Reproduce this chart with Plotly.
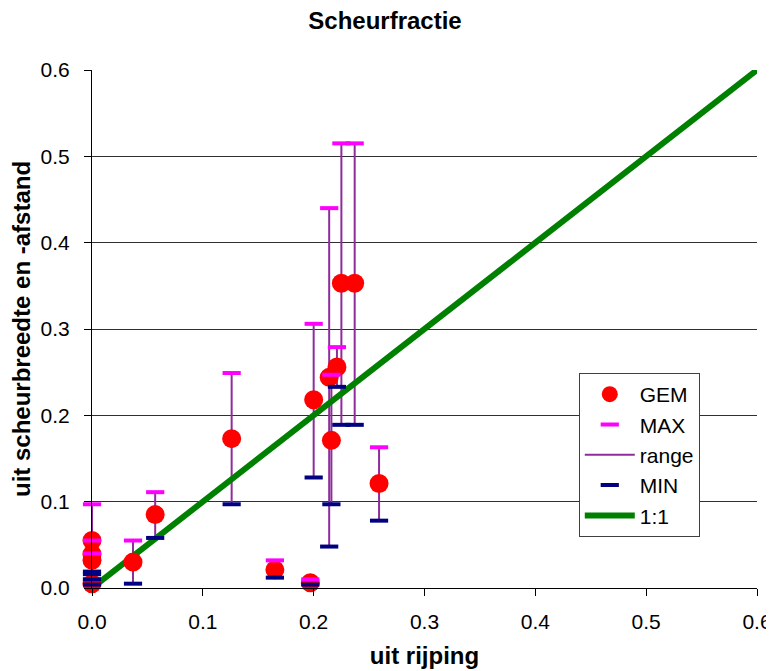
import plotly.graph_objects as go

# Data
x_rijping = [0.0, 0.0, 0.0, 0.0, 0.037, 0.057, 0.126, 0.165, 0.197, 0.200,
             0.214, 0.216, 0.221, 0.225, 0.237, 0.259]
gem = [0.055, 0.039, 0.032, 0.005, 0.030, 0.085, 0.173, 0.021, 0.006, 0.218,
       0.244, 0.171, 0.256, 0.353, 0.353, 0.121]
maxv = [0.097, 0.055, 0.040, 0.010, 0.055, 0.111, 0.249, 0.032, 0.010, 0.306,
        0.440, 0.247, 0.279, 0.515, 0.515, 0.163]
minv = [0.019, 0.016, 0.010, 0.004, 0.005, 0.058, 0.097, 0.012, 0.004, 0.128,
        0.048, 0.097, 0.233, 0.189, 0.189, 0.078]
line_x = [0.0, 0.6]
line_y = [0.0, 0.6]
ticks = [0.0, 0.1, 0.2, 0.3, 0.4, 0.5, 0.6]

font = "Liberation Sans, Arial, sans-serif"

# range segments built from min/max
rx, ry = [], []
for xv, lo, hi in zip(x_rijping, minv, maxv):
    rx += [xv, xv, None]
    ry += [lo, hi, None]

fig = go.Figure()
fig.add_trace(go.Scatter(x=rx, y=ry, mode="lines", name="range",
                         line=dict(color="#8E2C9A", width=2),
                         legendrank=3, legendgroup="c", cliponaxis=False))
fig.add_trace(go.Scatter(x=line_x, y=line_y, mode="lines", name="1:1",
                         line=dict(color="#008000", width=6),
                         legendrank=5, legendgroup="e", cliponaxis=False))
fig.add_trace(go.Scatter(x=x_rijping, y=gem, mode="markers", name="GEM",
                         marker=dict(symbol="circle", size=19, color="#FF0000"),
                         legendrank=1, legendgroup="a", cliponaxis=False))
fig.add_trace(go.Scatter(x=x_rijping, y=maxv, mode="markers", name="MAX",
                         marker=dict(symbol="line-ew-open", size=13,
                                     color="#FF00FF",
                                     line=dict(color="#FF00FF", width=4)),
                         legendrank=2, legendgroup="b", cliponaxis=False))
fig.add_trace(go.Scatter(x=x_rijping, y=minv, mode="markers", name="MIN",
                         marker=dict(symbol="line-ew-open", size=13,
                                     color="#000080",
                                     line=dict(color="#000080", width=4)),
                         legendrank=4, legendgroup="d", cliponaxis=False))

fig.update_layout(
    width=774, height=671,
    margin=dict(l=84, r=25, t=62, b=91, autoexpand=False),
    paper_bgcolor="white", plot_bgcolor="white",
    font=dict(family=font, size=21, color="black"),
    title=dict(text="<b>Scheurfractie</b>", x=(377 / 774), xanchor="center",
               xref="container", yref="container",
               y=1 - 13 / 671, yanchor="middle", automargin=False,
               font=dict(size=24, family=font)),
    legend=dict(x=0.732, y=0.415, xanchor="left", yanchor="top",
                bgcolor="white", bordercolor="#404040", borderwidth=1,
                font=dict(size=21, family=font), tracegroupgap=8,
                itemwidth=50, traceorder="normal"),
    showlegend=True,
)
fig.update_xaxes(range=[0, 0.6], tickvals=ticks, tickformat=".1f",
                 showgrid=False, zeroline=False, showline=True,
                 linecolor="black", linewidth=1, ticks="outside",
                 ticklen=7, tickcolor="black", ticklabelstandoff=8,
                 automargin=False,
                 title=dict(text="<b>uit rijping</b>", standoff=14,
                            font=dict(size=24)),
                 tickfont=dict(size=21))
fig.update_yaxes(range=[0, 0.6], tickvals=ticks, tickformat=".1f",
                 showgrid=True, gridcolor="#303030", gridwidth=1,
                 zeroline=False, showline=True,
                 linecolor="black", linewidth=1, ticks="outside",
                 ticklen=7, tickcolor="black", ticklabelstandoff=10,
                 automargin=False,
                 title=dict(text="<b>uit scheurbreedte en -afstand</b>",
                            standoff=8, font=dict(size=24)),
                 tickfont=dict(size=21))

fig.write_html("out.html")
